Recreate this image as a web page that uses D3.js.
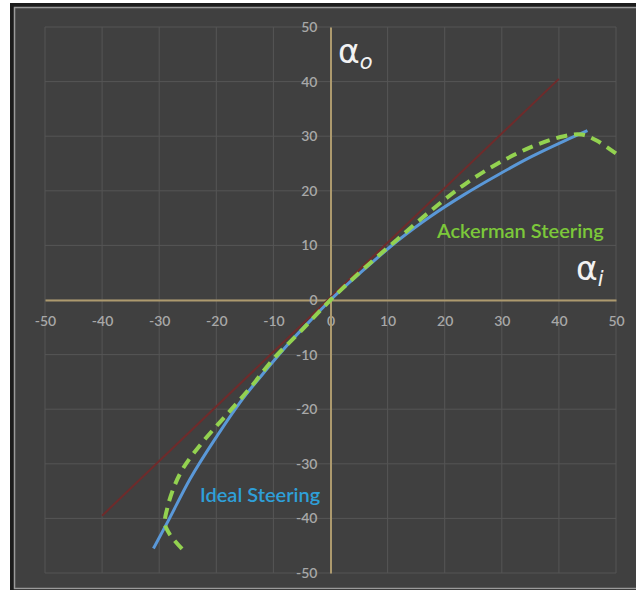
<!DOCTYPE html>
<html>
<head>
<meta charset="utf-8">
<script src="https://cdn.jsdelivr.net/npm/d3@7"></script>
<style>
  body { margin: 0; background: #fff; }
  svg { display: block; }
</style>
</head>
<body>
<div id="plot"></div>
<script>
// tick values for both axes
var ticks = [-50, -40, -30, -20, -10, 0, 10, 20, 30, 40, 50];

// reference line alpha_o = alpha_i (red)
var reference = [[-40, -39.5], [40, 40.5]];

// ideal steering (blue), [alpha_i, alpha_o]
var ideal = [[-31, -45.5], [-28.4, -40.4], [-24.6, -32.8], [-19.8, -24.8], [-15.8, -18.7],
  [-11.1, -12.6], [-7, -7.6], [-3, -3.2], [0, 0], [5.8, 5.5], [11.7, 10.8], [17.5, 15.3],
  [23.4, 19.3], [29.3, 22.9], [35.1, 26.2], [40.9, 29.1], [45, 31]];

// ackerman linkage (green dashed)
var ackerman = [[-26, -45.6], [-28.1, -43], [-29, -41], [-28.6, -38.2], [-27.5, -34.5],
  [-25.8, -30.8], [-22.3, -25.9], [-18.1, -20.9], [-14, -16], [-10, -10.8], [-5.3, -5.8],
  [0, 0], [5.8, 5.7], [11.7, 11.1], [17.5, 16.3], [23.4, 21.1], [29.3, 25], [35.1, 28],
  [40.9, 30], [44, 30.3], [46.6, 29.2], [50.3, 26.6]];

var W = 636, H = 593;

var svg = d3.select("#plot").append("svg")
  .attr("width", W)
  .attr("height", H);

// frame
svg.append("rect")
  .attr("x", 10).attr("y", 3)
  .attr("width", W - 10).attr("height", 587)
  .attr("fill", "#1c1c1c");
svg.append("rect")
  .attr("x", 14.5).attr("y", 7.5)
  .attr("width", W).attr("height", 581)
  .attr("fill", "#404040")
  .attr("stroke", "#9a9a9a")
  .attr("stroke-width", 1.5);

var x = d3.scaleLinear().domain([-50, 50]).range([45, 616]);
var y = d3.scaleLinear().domain([-50, 50]).range([573, 27]);

// grid
var grid = svg.append("g").attr("class", "grid");
grid.selectAll(".gx")
  .data(ticks)
  .enter().append("line")
    .attr("x1", function(d) { return x(d); })
    .attr("x2", function(d) { return x(d); })
    .attr("y1", y(50)).attr("y2", y(-50))
    .attr("stroke", "#555555").attr("stroke-width", 1);
grid.selectAll(".gy")
  .data(ticks)
  .enter().append("line")
    .attr("y1", function(d) { return y(d); })
    .attr("y2", function(d) { return y(d); })
    .attr("x1", x(-50)).attr("x2", x(50))
    .attr("stroke", "#555555").attr("stroke-width", 1);

// axes through the origin, plain hyphen for negatives
var fmt = function(d) { return String(d); };
var xAxis = d3.axisBottom(x).tickValues(ticks).tickSize(0).tickPadding(16).tickFormat(fmt);
var yAxis = d3.axisLeft(y).tickValues(ticks).tickSize(0).tickPadding(13).tickFormat(fmt);

var gx = svg.append("g")
  .attr("transform", "translate(0," + y(0) + ")")
  .call(xAxis);
var gy = svg.append("g")
  .attr("transform", "translate(" + x(0) + ",0)")
  .call(yAxis);

[gx, gy].forEach(function(g) {
  g.select(".domain").attr("stroke", "#ad9a6e").attr("stroke-width", 2);
  g.selectAll("text")
    .attr("fill", "#a8a8a8")
    .style("font-family", "Lato, 'Open Sans', sans-serif")
    .style("font-weight", "600")
    .style("font-size", "14px");
});

var line = d3.line()
  .x(function(d) { return x(d[0]); })
  .y(function(d) { return y(d[1]); });

svg.append("path")
  .datum(reference)
  .attr("d", line)
  .attr("fill", "none")
  .attr("stroke", "#6f2b2b")
  .attr("stroke-width", 2);

svg.append("path")
  .datum(ideal)
  .attr("d", line.curve(d3.curveMonotoneX))
  .attr("fill", "none")
  .attr("stroke", "#5a98d8")
  .attr("stroke-width", 3);

svg.append("path")
  .datum(ackerman)
  .attr("d", line.curve(d3.curveCatmullRom.alpha(0.5)))
  .attr("fill", "none")
  .attr("stroke", "#93d250")
  .attr("stroke-width", 4)
  .attr("stroke-dasharray", "11,7");

// series labels
svg.append("text")
  .attr("x", 437).attr("y", 238)
  .attr("fill", "#7cc83a")
  .style("font-family", "Lato, sans-serif")
  .style("font-weight", "600")
  .style("font-size", "20px")
  .text("Ackerman Steering");

svg.append("text")
  .attr("x", 200).attr("y", 502)
  .attr("fill", "#2f9fd8")
  .style("font-family", "Lato, sans-serif")
  .style("font-weight", "600")
  .style("font-size", "20px")
  .text("Ideal Steering");

// axis titles
function greek(px, py, sub) {
  var t = svg.append("text")
    .attr("x", px).attr("y", py)
    .attr("fill", "#f2f2f2")
    .style("font-family", "'DejaVu Sans', sans-serif");
  t.append("tspan").style("font-size", "33px").text("α");
  t.append("tspan")
    .attr("dy", 6)
    .style("font-size", "21px")
    .style("font-style", "italic")
    .text(sub);
}
greek(338, 63, "o");
greek(576, 280, "i");
</script>
</body>
</html>
